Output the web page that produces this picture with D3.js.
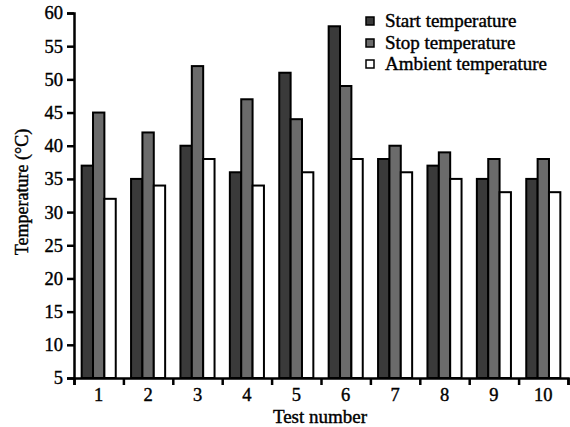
<!DOCTYPE html>
<html>
<head>
<meta charset="utf-8">
<script src="https://cdn.jsdelivr.net/npm/d3@7"></script>
<style>
  body { margin: 0; background: #fff; }
  svg text { font-family: "Liberation Serif", "Times New Roman", serif; fill: #000; stroke: #000; stroke-width: 0.4px; }
</style>
</head>
<body>
<svg id="chart" width="570" height="427"></svg>
<script>
// data
const tests = ["1", "2", "3", "4", "5", "6", "7", "8", "9", "10"];
const seriesNames = ["Start temperature", "Stop temperature", "Ambient temperature"];
const startTemp   = [37, 35, 40, 36, 51, 58, 38, 37, 35, 35];
const stopTemp    = [45, 42, 52, 47, 44, 49, 40, 39, 38, 38];
const ambientTemp = [32, 34, 38, 34, 36, 38, 36, 35, 33, 33];
const yTicks = [5, 10, 15, 20, 25, 30, 35, 40, 45, 50, 55, 60];
const colors = ["#3a3a3a", "#6b6b6b", "#ffffff"];

const rows = tests.map((t, i) => ({
    test: t,
    values: [startTemp[i], stopTemp[i], ambientTemp[i]]
}));

const svg = d3.select("#chart");
const plotLeft = 74, plotRight = 568, plotTop = 13, plotBottom = 378;

const y = d3.scaleLinear()
            .domain([5, 60])
            .range([plotBottom, plotTop]);

const x0 = d3.scaleBand()
             .domain(tests)
             .range([plotLeft, plotRight])
             .paddingInner(0.31)
             .paddingOuter(0.155);

const x1 = d3.scaleBand()
             .domain(d3.range(seriesNames.length))
             .range([0, x0.bandwidth()]);

// bars
const groups = svg.append("g")
                  .selectAll("g")
                  .data(rows)
                  .enter()
                  .append("g")
                  .attr("transform", d => "translate(" + x0(d.test) + ",0)");

groups.selectAll("rect")
      .data(d => d.values.map((v, k) => ({k: k, v: v})))
      .enter()
      .append("rect")
      .attr("x", d => x1(d.k))
      .attr("y", d => y(d.v))
      .attr("width", x1.bandwidth())
      .attr("height", d => y(5) - y(d.v))
      .attr("fill", d => colors[d.k])
      .attr("stroke", "#000")
      .attr("stroke-width", 2);

// y axis
svg.append("g")
   .attr("transform", "translate(" + plotLeft + ",0)")
   .call(d3.axisLeft(y).tickValues(yTicks).tickSize(7).tickPadding(4));

// x axis: boundary ticks + centred labels
const xb = d3.scaleLinear().domain([0, tests.length]).range([plotLeft, plotRight]);
svg.append("g")
   .attr("transform", "translate(0," + plotBottom + ")")
   .call(d3.axisBottom(xb).ticks(tests.length).tickFormat("").tickSize(7));

const xLabels = svg.append("g")
   .attr("transform", "translate(0," + plotBottom + ")")
   .call(d3.axisBottom(x0).tickSize(0).tickPadding(10));
xLabels.select(".domain").remove();

svg.selectAll(".domain").attr("stroke", "#000").attr("stroke-width", 2.5);
svg.selectAll(".tick line").attr("stroke", "#000").attr("stroke-width", 2.5);
svg.selectAll(".tick text")
   .style("font-family", "'Liberation Serif', serif")
   .style("font-size", "18.5px")
   .attr("fill", "#000");

// axis titles
svg.append("text")
   .attr("x", 320)
   .attr("y", 423)
   .attr("text-anchor", "middle")
   .style("font-size", "19px")
   .text("Test number");

svg.append("text")
   .attr("transform", "rotate(-90)")
   .attr("x", -192)
   .attr("y", 28)
   .attr("text-anchor", "middle")
   .style("font-size", "18px")
   .text("Temperature (°C)");

// legend
const legendY = [21, 43, 64];
const legend = svg.append("g")
                  .selectAll("g")
                  .data(seriesNames)
                  .enter()
                  .append("g")
                  .attr("transform", (d, i) => "translate(366," + legendY[i] + ")");

legend.append("rect")
      .attr("x", 0)
      .attr("y", -4)
      .attr("width", 8)
      .attr("height", 8)
      .attr("fill", (d, i) => colors[i])
      .attr("stroke", "#000")
      .attr("stroke-width", 1.5);

legend.append("text")
      .attr("x", 19)
      .attr("y", 6)
      .style("font-size", "19px")
      .text(d => d);
</script>
</body>
</html>
